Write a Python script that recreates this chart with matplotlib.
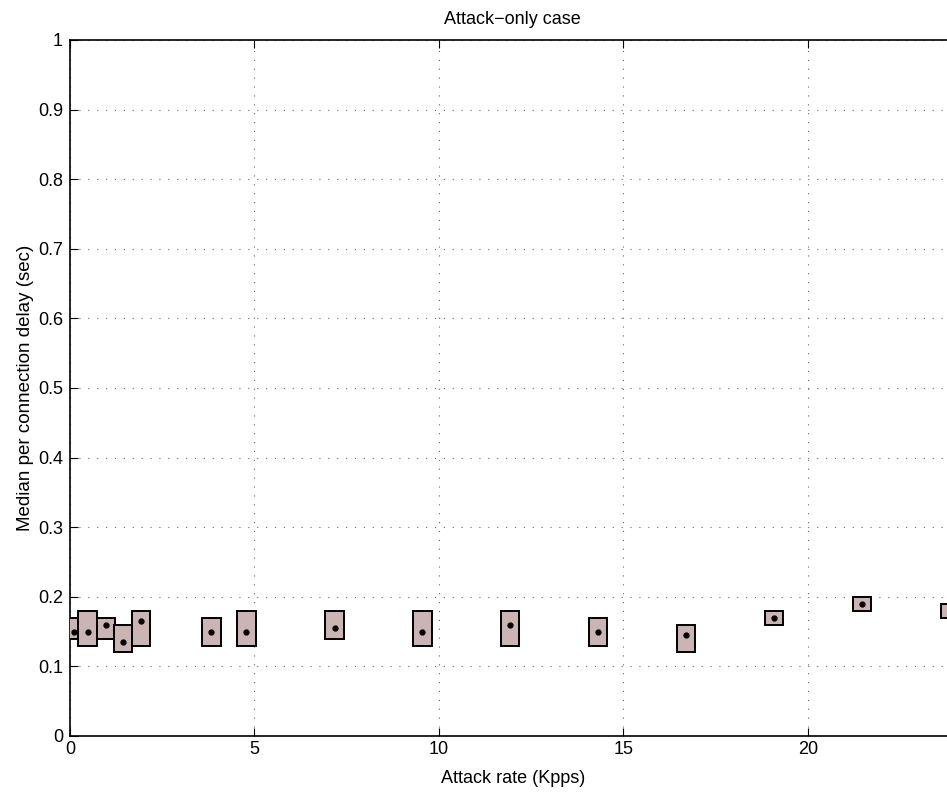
import matplotlib
matplotlib.use("Agg")
import matplotlib.pyplot as plt
import numpy as np

plt.rcParams['font.family'] = ['Liberation Sans', 'DejaVu Sans']

# Data
attack_rate = [0.11, 0.48, 0.97, 1.44, 1.92, 3.83, 4.78, 7.17, 9.55, 11.93, 14.31, 16.70, 19.08, 21.46, 23.85]
box_low     = [0.14, 0.13, 0.14, 0.12, 0.13, 0.13, 0.13, 0.14, 0.13, 0.13, 0.13, 0.12, 0.16, 0.18, 0.17]
box_high    = [0.17, 0.18, 0.17, 0.16, 0.18, 0.17, 0.18, 0.18, 0.18, 0.18, 0.17, 0.16, 0.18, 0.20, 0.19]
median      = [0.15, 0.15, 0.16, 0.135, 0.165, 0.15, 0.15, 0.155, 0.15, 0.16, 0.15, 0.145, 0.17, 0.19, 0.18]
x_ticks = [0, 5, 10, 15, 20]
y_ticks = [0, 0.1, 0.2, 0.3, 0.4, 0.5, 0.6, 0.7, 0.8, 0.9, 1]
y_ticklabels = ['0', '0.1', '0.2', '0.3', '0.4', '0.5', '0.6', '0.7', '0.8', '0.9', '1']

W, H = 947, 795
fig = plt.figure(figsize=(W/100, H/100), dpi=100)
xmax = 24
ax = fig.add_axes([70/W, (H-736)/H, xmax*36.9/W, 696/H])

heights = [h - l for h, l in zip(box_high, box_low)]
ax.bar(attack_rate, heights, bottom=box_low, width=0.5, color='#cbb4b4',
       edgecolor='black', linewidth=1.4, zorder=3)
ax.plot(attack_rate, median, linestyle='none', marker='o', markersize=3.5,
        color='black', zorder=4)

ax.set_xlim(0, xmax)
ax.set_ylim(0, 1)
ax.set_xticks(x_ticks)
ax.set_xticklabels([str(t) for t in x_ticks])
ax.set_yticks(y_ticks)
ax.set_yticklabels(y_ticklabels)
ax.tick_params(direction='in', top=True, right=True, labelsize=13, length=6, width=0.8)
ax.tick_params(axis='y', pad=5)
ax.grid(True, linestyle=(0, (1, 7)), color='#666666', linewidth=0.8)
ax.set_axisbelow(True)
for s in ax.spines.values():
    s.set_linewidth(1.2)

ax.set_xlabel('Attack rate (Kpps)', fontsize=13, labelpad=9)
ax.set_ylabel('Median per connection delay (sec)', fontsize=13.5, labelpad=3)
ax.set_title('Attack\u2212only case', fontsize=13, pad=11.5)

fig.savefig('out.png', dpi=100)
